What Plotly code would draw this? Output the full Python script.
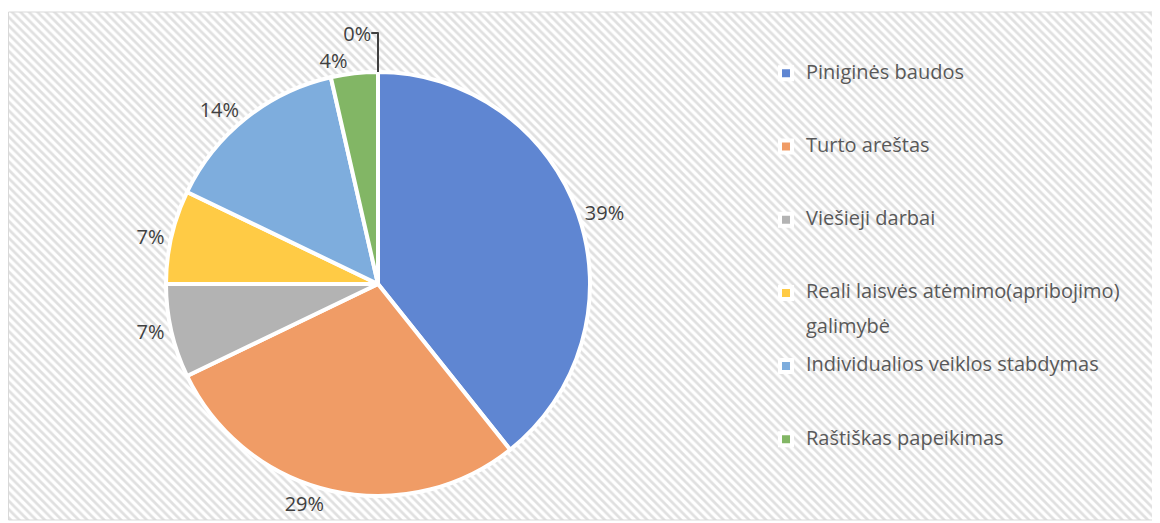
import plotly.graph_objects as go

# counts behind the percentages (n = 28)
categories = [
    "Piniginės baudos",
    "Turto areštas",
    "Viešieji darbai",
    "Reali laisvės atėmimo(apribojimo)<br>galimybė",
    "Individualios veiklos stabdymas",
    "Raštiškas papeikimas",
]
counts = [11, 8, 2, 2, 4, 1]
# one more category with no answers; shown as 0% but not in legend
extra_label = "Kita"
extra_count = 0

colors = ["#5f86d2", "#f09c66", "#b3b3b3", "#ffcb45", "#7eaddd", "#82b665"]

# page body has an 8px margin, so the figure is drawn 8px in from the corner
OFF = 8
W, H = 1160 - OFF, 523 - OFF
FONT = "Open Sans"


def px(x):
    return (x - OFF) / W


def py(y):
    return (H - (y - OFF)) / H


# legend: small base font (sets line pitch), bigger visible text via spans,
# padded with blank lines to get the wide item spacing
legend_labels = []
for c in categories:
    lines = ['<span style="font-size:20px">%s</span>' % s for s in c.split("<br>")]
    if len(lines) == 2:
        lines = [lines[0], " ", lines[1]]
    lines += [" "] * (4 - len(lines))
    legend_labels.append("<br>".join(lines))

pie_dom = dict(x=[px(166), px(590)], y=[py(496), py(72)])

fig = go.Figure()

# hatched background
fig.add_trace(go.Scatter(
    x=[0.5, 1149, 1149, 0.5, 0.5], y=[4, 4, 512, 512, 4],
    mode="lines", fill="toself", line=dict(width=0),
    fillcolor="white",
    fillpattern=dict(shape="\\", size=6, solidity=0.45,
                     fgcolor="#e0e0e0", bgcolor="white", fillmode="replace"),
    hoverinfo="skip", showlegend=False,
))

fig.add_trace(go.Pie(
    labels=legend_labels, values=counts, sort=False, direction="clockwise",
    rotation=0, marker=dict(colors=colors, line=dict(color="white", width=4)),
    textinfo="none", domain=pie_dom, hoverinfo="percent",
))

fig.add_trace(go.Pie(
    labels=legend_labels + [extra_label], values=counts + [extra_count],
    sort=False, direction="clockwise", rotation=0,
    marker=dict(colors=["rgba(0,0,0,0)"] * 7, line=dict(width=0)),
    textinfo="percent", texttemplate="%{percent:.0%}", textposition="outside",
    outsidetextfont=dict(family=FONT, size=20, color="#404040"),
    domain=pie_dom, showlegend=False, hoverinfo="skip",
))

fig.update_layout(
    width=W, height=H,
    margin=dict(l=0, r=0, t=0, b=0),
    paper_bgcolor="white", plot_bgcolor="rgba(0,0,0,0)",
    xaxis=dict(range=[0, W], visible=False, domain=[0, 1], fixedrange=True),
    yaxis=dict(range=[H, 0], visible=False, domain=[0, 1], fixedrange=True),
    font=dict(family=FONT, size=13.5, color="#595959"),
    legend=dict(
        x=px(766), y=py(58), xanchor="left", yanchor="top",
        bgcolor="rgba(0,0,0,0)", valign="top",
        font=dict(family=FONT, size=13.5, color="#595959"),
    ),
    shapes=[
        dict(type="rect", xref="paper", yref="paper",
             x0=px(745), x1=px(1150), y0=py(492), y1=py(40),
             fillcolor="rgba(255,255,255,0.6)", line=dict(width=0), layer="below"),
        dict(type="rect", xref="paper", yref="paper",
             x0=px(8.5), x1=px(1157), y0=py(520), y1=py(12),
             fillcolor="rgba(0,0,0,0)", line=dict(color="#d9d9d9", width=1)),
    ],
)

fig.write_html("out.html")
